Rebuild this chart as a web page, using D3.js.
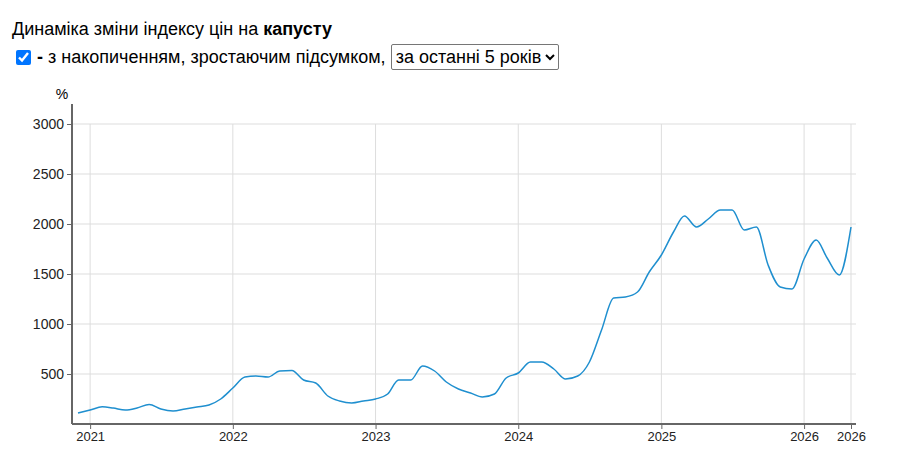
<!DOCTYPE html>
<html><head><meta charset="utf-8">
<script src="https://cdn.jsdelivr.net/npm/d3@7"></script>
<style>
body{margin:0;font-family:"Liberation Sans",Arial,sans-serif;background:#fff;}
#hdr{position:absolute;left:12px;top:19px;font-size:18px;color:#000;}
#row{position:absolute;left:16px;top:44px;font-size:18px;display:flex;align-items:center;}
#row input{margin:0 6px 0 0;width:15px;height:15px;accent-color:#0075ff;}
#row select{font-family:inherit;font-size:18px;margin-left:5px;height:26px;border:1px solid #767676;border-radius:2px;background:#fff;}
svg{position:absolute;left:0;top:0;}
</style></head><body>
<div id="hdr">Динаміка зміни індексу цін на <b>капусту</b></div>
<div id="row"><input type="checkbox" checked><b>-</b>&nbsp;з накопиченням, зростаючим підсумком, <select><option>за останні 5 років</option></select></div>
<svg id="c" width="921" height="460"></svg>
<script>
const startMonth = "2020-12";
const values = [110,140,172,160,140,160,195,150,130,150,170,190,250,360,470,480,470,530,535,440,410,280,230,210,230,250,300,440,440,580,530,420,350,310,270,300,460,510,620,620,550,450,480,620,940,1260,1270,1320,1520,1690,1920,2080,1970,2050,2140,2140,1940,1970,1590,1370,1350,1650,1840,1660,1490,1970];
const yTicks = [500,1000,1500,2000,2500,3000];
const xTickYears = [2021,2022,2023,2024,2025,2026];
const yLabel = "%";

const p = d3.timeParse("%Y-%m");
const s = p(startMonth);
const data = values.map((v,i)=>({d:d3.timeMonth.offset(s,i),v}));
const svg = d3.select("#c");
const last = data[data.length-1].d;
const x = d3.scaleTime().domain([s, last]).range([78,851]);
const y = d3.scaleLinear().domain([0,3000]).range([424,124]);
const xt = xTickYears.map(yr=>new Date(yr,0,1)).concat([last]);
const g = svg.append("g");
g.selectAll(".gy").data(yTicks).join("line").attr("x1",73).attr("x2",856).attr("y1",d=>y(d)).attr("y2",d=>y(d)).attr("stroke","#ddd");
g.selectAll(".gx").data(xt).join("line").attr("x1",d=>x(d)).attr("x2",d=>x(d)).attr("y1",124).attr("y2",424).attr("stroke","#ddd");
const ya = svg.append("g").attr("transform","translate(72,0)").call(d3.axisLeft(y).tickValues(yTicks).tickFormat(d3.format("d")).tickSize(5).tickSizeOuter(0));
ya.select(".domain").attr("d","M0,104V424").attr("stroke","#666").attr("stroke-width",2);
ya.selectAll("text").attr("font-size",14).attr("font-family","Liberation Sans,Arial").attr("fill","#222");
ya.selectAll(".tick line").attr("stroke","#666");
const xa = svg.append("g").attr("transform","translate(0,424)").call(d3.axisBottom(x).tickValues(xt).tickFormat(d3.timeFormat("%Y")).tickSize(5).tickSizeOuter(0));
xa.select(".domain").attr("d","M72,0H856").attr("stroke","#666").attr("stroke-width",2);
xa.selectAll("text").attr("font-size",13).attr("font-family","Liberation Sans,Arial").attr("fill","#222");
xa.selectAll(".tick line").attr("stroke","#666");
svg.append("text").attr("x",62).attr("y",99).attr("text-anchor","middle").attr("font-size",14).attr("font-family","Liberation Sans,Arial").text(yLabel);
svg.append("path").datum(data).attr("fill","none").attr("stroke","#1f8fcf").attr("stroke-width",1.5)
 .attr("d",d3.line().curve(d3.curveMonotoneX).x(d=>x(d.d)).y(d=>y(d.v)));
</script></body></html>
